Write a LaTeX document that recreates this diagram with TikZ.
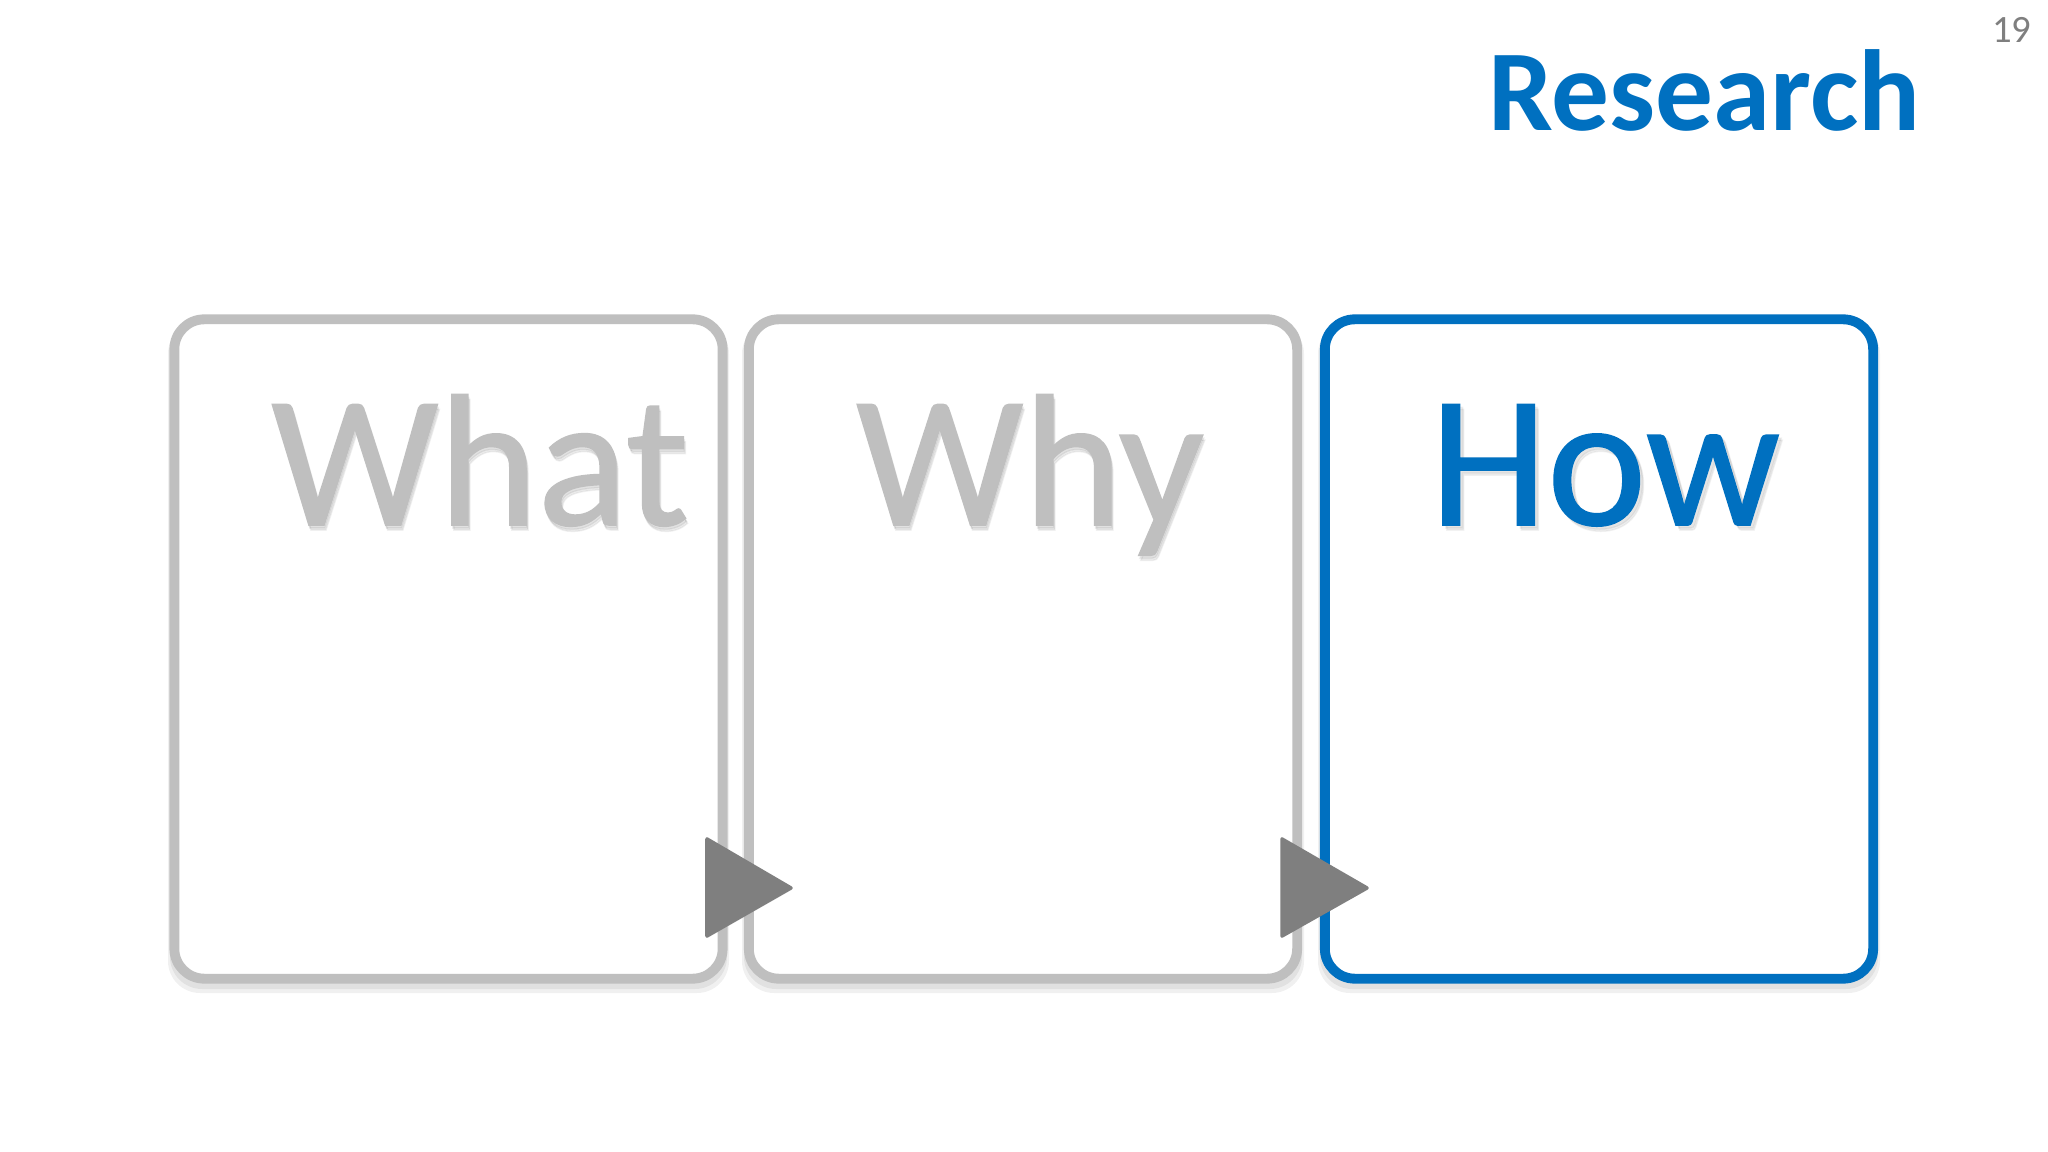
\documentclass[tikz,border=0pt]{standalone}
\usepackage{fontspec}
\setmainfont{Carlito}
\newfontfamily\bigfont[FakeBold=0.8]{Carlito}
\usetikzlibrary{positioning}
\definecolor{ppblue}{HTML}{0070C0}
\definecolor{ppgray}{HTML}{BFBFBF}
\definecolor{pparrow}{HTML}{7F7F7F}
\definecolor{ppnum}{HTML}{7F7F7F}
\tikzset{
  stagebox/.style={draw=ppgray, line width=2.8pt, rounded corners=0.3cm, fill=white,
    minimum width=5.48cm, minimum height=6.59cm, inner sep=0pt},
  activebox/.style={stagebox, draw=ppblue},
  boxshadow/.style={fill=black, opacity=0.06, rounded corners=0.32cm},
  bigword/.style={font=\bigfont\fontsize{53.5pt}{60pt}\selectfont, anchor=base, inner sep=0pt},
  wordshadow/.style={bigword, text=black, opacity=0.06},
  chevron/.style={fill=pparrow, draw=pparrow, line width=1pt, line join=round},
}
\begin{document}
\begin{tikzpicture}[x=0.01cm,y=-0.01cm]
\useasboundingbox[fill=white] (0,0) rectangle (2048,1152);
% shadows of the boxes
\fill[boxshadow] (168,322) rectangle (729,993);
\fill[boxshadow] (170,322) rectangle (727,989);
\fill[boxshadow] (742,322) rectangle (1304,993);
\fill[boxshadow] (744,322) rectangle (1302,989);
\fill[boxshadow] (1318,322) rectangle (1880,993);
\fill[boxshadow] (1320,322) rectangle (1878,989);
% boxes
\node[stagebox]  (what) at (448.5,649) {};
\node[stagebox]  (why)  at (1023,649) {};
\node[activebox] (how)  at (1599,649) {};
% words with soft shadow
\node[wordshadow] at (482,530) {What};
\node[wordshadow] at (481,528) {What};
\node[bigword, text=ppgray] (whatlbl) at (480,525) {What};
\node[wordshadow] at (1032,530) {Why};
\node[wordshadow] at (1031,528) {Why};
\node[bigword, text=ppgray] (whylbl) at (1030,525) {Why};
\node[wordshadow, opacity=0.05] at (1609,530) {How};
\node[wordshadow, opacity=0.05] at (1608,528) {How};
\node[bigword, text=ppblue] (howlbl) at (1605,525) {How};
% arrow heads between the stages
\coordinate (t1a) at (707,839);
\coordinate (t1b) at (707,936);
\coordinate (t1c) at (791,888);
\coordinate (t2a) at (1282,839);
\coordinate (t2b) at (1282,936);
\coordinate (t2c) at (1367,888);
\filldraw[chevron] (t1a) -- (t1c) -- (t1b) -- cycle;
\filldraw[chevron] (t2a) -- (t2c) -- (t2b) -- cycle;
% title and page number
\node[anchor=base east, inner sep=0pt, text=ppblue, font=\bfseries\fontsize{32.8pt}{40pt}\selectfont] (title) at (1921,131) {Research};
\node[anchor=base east, inner sep=0pt, text=ppnum, font=\fontsize{11pt}{13pt}\selectfont] (page) at (2032,43) {19};
\end{tikzpicture}
\end{document}
